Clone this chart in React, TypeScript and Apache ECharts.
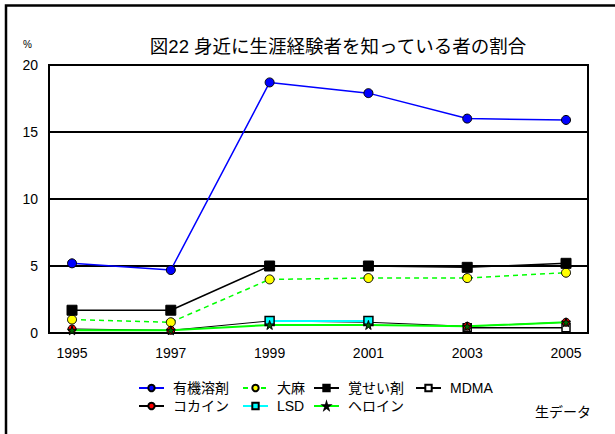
import React, { useEffect, useRef } from "react";
import * as echarts from "echarts";

const years = [1995, 1997, 1999, 2001, 2003, 2005];
const solvent = [5.2, 4.7, 18.7, 17.9, 16.0, 15.9];
const cannabis = [1.0, 0.8, 4.0, 4.1, 4.1, 4.5];
const stimulant = [1.7, 1.7, 5.0, 5.0, 4.9, 5.2];
const mdma: (number | null)[] = [null, null, null, null, 0.4, 0.4];
const cocaine = [0.3, 0.2, 0.9, 0.8, 0.5, 0.8];
const lsd: (number | null)[] = [null, null, 0.9, 0.9, null, null];
const heroin = [0.2, 0.2, 0.6, 0.6, 0.5, 0.8];
const yTicks = [0, 5, 10, 15, 20];

const names = ["有機溶剤", "大麻", "覚せい剤", "MDMA", "コカイン", "LSD", "ヘロイン"];

const FONT = "'Liberation Sans', Arial, 'Noto Sans CJK JP', sans-serif";
const STAR = "path://M50,0 L61,35 L98,35 L68,57 L79,91 L50,70 L21,91 L32,57 L2,35 L39,35 Z";

function pts(vals: (number | null)[]) {
  return years
    .map((y, i) => (vals[i] == null ? null : [y, vals[i]]))
    .filter((p) => p !== null);
}

export default function App() {
  const ref = useRef<HTMLDivElement>(null);
  useEffect(() => {
    if (!ref.current) return;
    const chart = echarts.init(ref.current, undefined, { renderer: "svg" });
    const legendPos = [
      [138, 381],
      [242, 381],
      [313, 381],
      [415, 381],
      [138, 399],
      [242, 399],
      [313, 399],
    ];
    chart.setOption({
      animation: false,
      backgroundColor: "#fff",
      textStyle: { fontFamily: FONT },
      grid: {
        left: 49,
        right: 27,
        top: 65,
        bottom: 101,
        show: true,
        borderColor: "#000",
        borderWidth: 2,
        containLabel: false,
      },
      legend: names.map((n, i) => ({
        data: [n],
        left: legendPos[i][0],
        top: legendPos[i][1],
        padding: 0,
        itemWidth: 25,
        itemHeight: 8,
        textStyle: { fontSize: 14, color: "#000", fontFamily: FONT, padding: [0, 0, 0, 4] },
      })),
      xAxis: {
        type: "value",
        min: 1994.534,
        max: 2005.445,
        axisLine: { show: false },
        axisTick: { show: false },
        splitLine: { show: false },
        axisLabel: {
          customValues: years,
          fontSize: 14,
          fontFamily: FONT,
          color: "#000",
          margin: 13,
          formatter: (v: number) => String(v),
        },
      },
      yAxis: {
        type: "value",
        min: 0,
        max: 20,
        interval: 5,
        axisLine: { show: true, lineStyle: { color: "#000", width: 2 } },
        axisTick: { show: false },
        splitLine: { show: true, lineStyle: { color: "#000", width: 2 } },
        axisLabel: {
          customValues: yTicks,
          fontSize: 14,
          fontFamily: FONT,
          color: "#000",
          margin: 11,
        },
      },
      graphic: [
        {
          type: "rect",
          shape: { x: 6, y: 5.5, width: 700, height: 500 },
          style: { fill: "none", stroke: "#000", lineWidth: 2.5 },
          silent: true,
        },
        {
          type: "text",
          x: 338,
          y: 46,
          style: {
            text: "図22 身近に生涯経験者を知っている者の割合",
            fontSize: 18.5,
            fontFamily: FONT,
            fill: "#000",
            align: "center",
            verticalAlign: "middle",
          },
        },
        {
          type: "text",
          x: 23,
          y: 44,
          style: { text: "%", fontSize: 10, fontFamily: FONT, fill: "#000", verticalAlign: "middle" },
        },
        {
          type: "text",
          x: 535,
          y: 412,
          style: { text: "生データ", fontSize: 14, fontFamily: FONT, fill: "#000", verticalAlign: "middle" },
        },
      ],
      series: [
        {
          name: "有機溶剤",
          type: "line",
          data: pts(solvent),
          symbol: "circle",
          symbolSize: 9,
          lineStyle: { color: "#0000FF", width: 1.5 },
          itemStyle: { color: "#0000FF", borderColor: "#000", borderWidth: 1 },
        },
        {
          name: "大麻",
          type: "line",
          data: pts(cannabis),
          symbol: "circle",
          symbolSize: 9,
          lineStyle: { color: "#00FF00", width: 1.5, type: [5, 4] },
          itemStyle: { color: "#FFFF00", borderColor: "#000", borderWidth: 1 },
        },
        {
          name: "覚せい剤",
          type: "line",
          data: pts(stimulant),
          symbol: "rect",
          symbolSize: 10,
          lineStyle: { color: "#000", width: 1.5 },
          itemStyle: { color: "#000", borderColor: "#000", borderWidth: 1 },
        },
        {
          name: "MDMA",
          type: "line",
          data: pts(mdma),
          symbol: "rect",
          symbolSize: 8,
          lineStyle: { color: "#000", width: 1.5 },
          itemStyle: { color: "#fff", borderColor: "#000", borderWidth: 1.5 },
        },
        {
          name: "コカイン",
          type: "line",
          data: pts(cocaine),
          symbol: "circle",
          symbolSize: 8,
          lineStyle: { color: "#000", width: 1 },
          itemStyle: { color: "#FF0000", borderColor: "#000", borderWidth: 1 },
        },
        {
          name: "LSD",
          type: "line",
          data: pts(lsd),
          symbol: "rect",
          symbolSize: 9,
          lineStyle: { color: "#00FFFF", width: 2 },
          itemStyle: { color: "#00FFFF", borderColor: "#000", borderWidth: 1.5 },
        },
        {
          name: "ヘロイン",
          type: "line",
          data: pts(heroin),
          symbol: STAR,
          symbolSize: 9,
          lineStyle: { color: "#00FF00", width: 2 },
          itemStyle: { color: "#006600", borderColor: "#000", borderWidth: 1 },
        },
      ],
    });
    return () => chart.dispose();
  }, []);
  return (
    <div
      ref={ref}
      style={{ position: "fixed", left: 0, top: 0, width: 615, height: 434 }}
    />
  );
}
